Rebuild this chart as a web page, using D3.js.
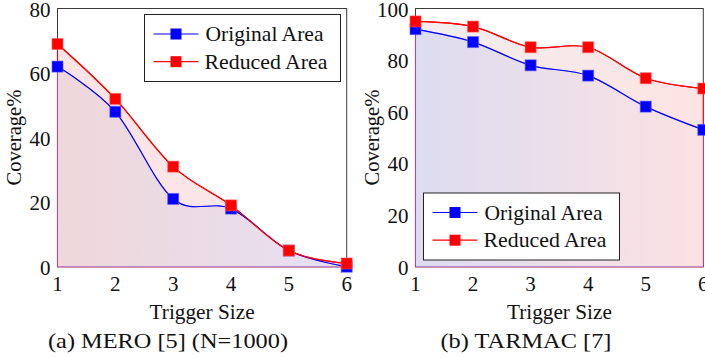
<!DOCTYPE html>
<html>
<head>
<meta charset="utf-8">
<script src="https://cdn.jsdelivr.net/npm/d3@7"></script>
</head>
<body style="margin:0">
<svg id="chart" width="705" height="358"></svg>
<script>
// data
const triggerSize = [1, 2, 3, 4, 5, 6]
const meroOriginal = [62, 48, 21, 18, 5, 0]
const meroReduced = [69, 52, 31, 19, 5, 1]
const tarmacOriginal = [92, 87, 78, 74, 62, 53]
const tarmacReduced = [95, 93, 85, 85, 73, 69]
const meroTicks = [0, 20, 40, 60, 80]
const tarmacTicks = [0, 20, 40, 60, 80, 100]
const seriesNames = ["Original Area", "Reduced Area"]

const svg = d3.select("#chart")
const defs = svg.append("defs")

// every label gets the serif font
function label(sel, size) {
    return sel.attr("font-family", "Liberation Serif")
        .style("font-family", '"Liberation Serif"')
        .style("font-size", size + "px").attr("fill", "#111")
}

function panel(opt)
{
    const x = d3.scaleLinear().domain([1, 6]).range([opt.left, opt.right])
    const y = d3.scaleLinear().domain([0, opt.yMax]).range([266.7, 8.5])
    const g = svg.append("g")

    // gradients for the two filled regions
    function grad(id, c0, c1) {
        const lg = defs.append("linearGradient").attr("id", id)
            .attr("gradientUnits", "userSpaceOnUse")
            .attr("x1", opt.left).attr("x2", opt.right).attr("y1", 0).attr("y2", 0)
        lg.append("stop").attr("offset", 0).attr("stop-color", c0)
        lg.append("stop").attr("offset", 1).attr("stop-color", c1)
        return `url(#${id})`
    }
    const fillRed = grad(opt.id + "-red", opt.redFill[0], opt.redFill[1])
    const fillBlue = grad(opt.id + "-blue", opt.blueFill[0], opt.blueFill[1])

    const curve = d3.curveCardinal.tension(0)
    const pts = vals => vals.map((v, i) => [triggerSize[i], v])

    // frame
    g.append("rect")
        .attr("x", opt.left).attr("y", y(opt.yMax))
        .attr("width", opt.right - opt.left).attr("height", y(0) - y(opt.yMax))
        .attr("fill", "none").attr("stroke", "#3a3a3a").attr("stroke-width", 1)

    const area = d3.area().x(d => x(d[0])).y0(y(0)).y1(d => y(d[1])).curve(curve)
    const line = d3.line().x(d => x(d[0])).y(d => y(d[1])).curve(curve)

    g.append("path").attr("d", area(pts(opt.reduced)))
        .attr("fill", fillRed).attr("stroke", "#ff0000").attr("stroke-width", 1.1)
    g.append("path").attr("d", area(pts(opt.original)))
        .attr("fill", fillBlue).attr("stroke", "rgba(0,0,255,0.3)").attr("stroke-width", 1.1)

    const series = [
        {vals: opt.original, color: "#0000ff", soft: "rgba(90,90,255,0.6)"},
        {vals: opt.reduced, color: "#ff0000", soft: "rgba(255,90,90,0.6)"}
    ]
    series.forEach(s => {
        g.append("path").attr("d", line(pts(s.vals)))
            .attr("fill", "none").attr("stroke", s.color).attr("stroke-width", 1.2)
        g.selectAll(null).data(pts(s.vals)).enter().append("rect")
            .attr("x", d => x(d[0]) - 5.5).attr("y", d => y(d[1]) - 5.5)
            .attr("width", 11).attr("height", 11)
            .attr("fill", s.color).attr("stroke", s.soft).attr("stroke-width", 1)
    })

    // tick labels
    label(g.selectAll(null).data(opt.yTicks).enter().append("text")
        .attr("x", opt.left - 7).attr("y", d => y(d) + 8)
        .attr("text-anchor", "end").text(d => d), 21)
    label(g.selectAll(null).data(triggerSize).enter().append("text")
        .attr("x", d => x(d)).attr("y", 290.5)
        .attr("text-anchor", "middle").text(d => d), 21)

    label(g.append("text")
        .attr("transform", `translate(${opt.left - 37},${(y(0) + y(opt.yMax)) / 2}) rotate(-90)`)
        .attr("text-anchor", "middle")
        .attr("textLength", 96).attr("lengthAdjust", "spacingAndGlyphs")
        .text("Coverage%"), 20)
    label(g.append("text")
        .attr("x", (opt.left + opt.right) / 2).attr("y", 319)
        .attr("text-anchor", "middle")
        .attr("textLength", 105).attr("lengthAdjust", "spacingAndGlyphs")
        .text("Trigger Size"), 21)
    label(g.append("text")
        .attr("x", opt.capX).attr("y", 347.5)
        .attr("text-anchor", "middle")
        .attr("textLength", opt.capW).attr("lengthAdjust", "spacingAndGlyphs")
        .text(opt.caption), 21)

    // legend
    const lg = g.append("g").attr("transform", `translate(${opt.legX},${opt.legY})`)
    lg.append("rect").attr("x", 0).attr("y", 0).attr("width", 196).attr("height", 67)
        .attr("fill", "#fff").attr("stroke", "#222").attr("stroke-width", 1)
    const legRows = [
        {name: seriesNames[0], color: "#0000ff", w: 118},
        {name: seriesNames[1], color: "#ff0000", w: 123}
    ]
    legRows.forEach((r, i) => {
        const cy = 19.5 + i * 27.7
        lg.append("line").attr("x1", 9).attr("x2", 54).attr("y1", cy).attr("y2", cy)
            .attr("stroke", r.color).attr("stroke-width", 1.2)
        lg.append("rect").attr("x", 31.5 - 5.5).attr("y", cy - 5.5).attr("width", 11).attr("height", 11)
            .attr("fill", r.color)
        label(lg.append("text").attr("x", i == 0 ? 61 : 60).attr("y", cy + 7)
            .attr("textLength", r.w).attr("lengthAdjust", "spacingAndGlyphs")
            .text(r.name), 21)
    })
}

panel({
    id: "mero", left: 57.5, right: 346.7, yMax: 80, yTicks: meroTicks,
    original: meroOriginal, reduced: meroReduced,
    redFill: ["#fde4e4", "#fbe7ea"], blueFill: ["#efd7da", "#e6e0f2"],
    caption: "(a) MERO [5] (N=1000)", capX: 168, capW: 240,
    legX: 144.5, legY: 14.5
})
panel({
    id: "tarmac", left: 415.5, right: 703.3, yMax: 100, yTicks: tarmacTicks,
    original: tarmacOriginal, reduced: tarmacReduced,
    redFill: ["#f2eeee", "#fde3e3"], blueFill: ["#dcdcf0", "#fce2e2"],
    caption: "(b) TARMAC [7]", capX: 526, capW: 171,
    legX: 423.5, legY: 193
})
</script>
</body>
</html>
